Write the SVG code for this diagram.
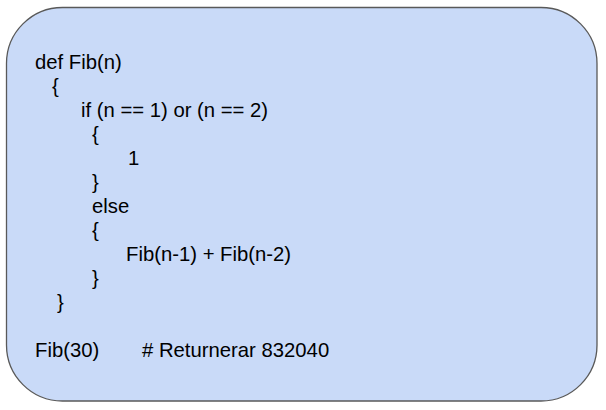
<svg xmlns="http://www.w3.org/2000/svg" width="606" height="410" viewBox="0 0 606 410">
<style>
.box{fill:#c9daf8;stroke:#595959;stroke-width:1.3}
.t{font-family:"Liberation Sans",Arial,sans-serif;font-size:20.3px;fill:#000}
</style>
<rect width="606" height="410" fill="#ffffff"/>
<g id="code-box">
<rect class="box" x="6.5" y="7.5" width="590.5" height="393.5" rx="56" ry="56"/>
<text class="t" x="35" y="68.5">def Fib(n)</text>
<text class="t" x="52" y="92.5">{</text>
<text class="t" x="81" y="116.5">if (n == 1) or (n == 2)</text>
<text class="t" x="92" y="140.5">{</text>
<text class="t" x="128" y="164.5">1</text>
<text class="t" x="92" y="188.5">}</text>
<text class="t" x="92" y="212.5">else</text>
<text class="t" x="92" y="236.5">{</text>
<text class="t" x="126" y="260.5">Fib(n-1) + Fib(n-2)</text>
<text class="t" x="92" y="284.5">}</text>
<text class="t" x="57" y="308.5">}</text>
<text class="t" x="35" y="356.5">Fib(30)</text>
<text class="t" x="142" y="356.5"># Returnerar 832040</text>
</g>
<g id="connectors"></g>
</svg>
